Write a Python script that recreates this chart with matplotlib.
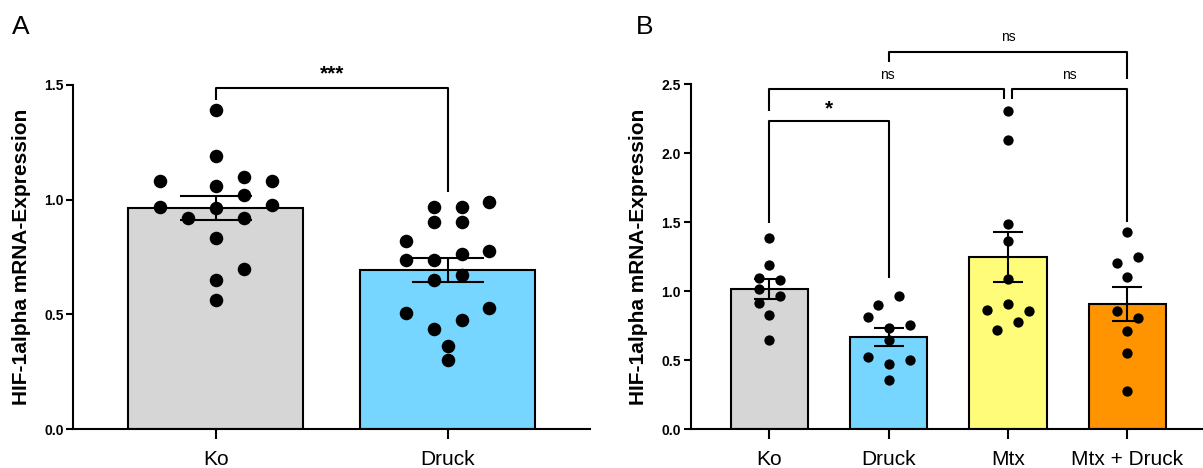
import matplotlib
matplotlib.use("Agg")
import matplotlib.pyplot as plt
import numpy as np

plt.rcParams["font.family"] = ["Liberation Sans", "DejaVu Sans"]

# ---- panel A data ----
groups_a = ["Ko", "Druck"]
ko_a = [1.39, 1.19, 1.08, 1.10, 1.08, 1.06, 1.02, 0.968, 0.965, 0.975,
        0.92, 0.92, 0.834, 0.696, 0.648, 0.562]
druck_a = [0.968, 0.968, 0.987, 0.904, 0.904, 0.82, 0.737, 0.737, 0.762,
           0.776, 0.67, 0.648, 0.507, 0.529, 0.474, 0.437, 0.362, 0.30]
colors_a = ["#D6D6D6", "#76D6FF"]

# ---- panel B data ----
groups_b = ["Ko", "Druck", "Mtx", "Mtx + Druck"]
ko_b = [1.389, 1.19, 1.099, 1.08, 1.017, 0.969, 0.915, 0.828, 0.645]
druck_b = [0.969, 0.899, 0.817, 0.759, 0.737, 0.645, 0.527, 0.505, 0.471, 0.36]
mtx_b = [2.307, 2.099, 1.49, 1.365, 1.092, 0.911, 0.867, 0.857, 0.775, 0.722]
mtxdruck_b = [1.427, 1.246, 1.208, 1.106, 0.857, 0.807, 0.71, 0.553, 0.275]
colors_b = ["#D6D6D6", "#76D6FF", "#FFFC79", "#FF9300"]

# swarm columns (in dot steps) for each point, same order as the values
slots_a = [
    [0, 0, -2, 1, 2, 0, 1, -2, 0, 2, -1, 1, 0, 1, 0, 0],
    [-0.5, 0.5, 1.5, -0.5, 0.5, -1.5, -1.5, -0.5, 0.5, 1.5, 0.5, -0.5,
     -1.5, 1.5, 0.5, -0.5, 0, 0],
]
slots_b = [
    [0, 0, -1, 1, -1, 1, -1, 0, 0],
    [1, -1, -2, 2, 0, 0, -2, 2, 0, 0],
    [0, 0, 0, 0, 0, 0, -2, 2, 1, -1],
    [0, 1, -1, 0, -1, 1, 0, 0, 0],
]

LW = 1.5


def bar_panel(ax, data, colors, slots, width, step, dot_size, cap):
    x = np.arange(len(data))
    means = [np.mean(d) for d in data]
    sems = [np.std(d, ddof=1) / np.sqrt(len(d)) for d in data]
    ax.bar(x, means, width=width, color=colors, edgecolor="black",
           linewidth=LW, zorder=1)
    ax.errorbar(x, means, yerr=sems, fmt="none", ecolor="black",
                elinewidth=LW, capsize=cap, capthick=LW, zorder=2)
    for i, (vals, sl) in enumerate(zip(data, slots)):
        xs = i + np.array(sl) * step
        ax.scatter(xs, vals, s=dot_size, color="black", zorder=3,
                   linewidths=0, clip_on=False)
    for side in ("top", "right"):
        ax.spines[side].set_visible(False)
    for side in ("left", "bottom"):
        ax.spines[side].set_linewidth(LW)
    ax.tick_params(axis="y", width=LW, length=5, labelsize=10, pad=2)
    ax.tick_params(axis="x", width=LW, length=7, labelsize=15, pad=8)
    ax.set_ylabel("HIF-1alpha mRNA-Expression", fontsize=15,
                  fontweight="bold")


def bracket(ax, x1, x2, y, y1, y2, text, ty, size, weight="normal"):
    ax.plot([x1, x1, x2, x2], [y1, y, y, y2], color="black", lw=LW,
            clip_on=False, solid_capstyle="butt", zorder=4)
    ax.text((x1 + x2) / 2, ty, text, ha="center", va="center",
            fontsize=size, fontweight=weight, clip_on=False)


fig = plt.figure(figsize=(12.03, 4.68), dpi=100)
W, H = 1203, 468

# panel A
ax_a = fig.add_axes([73.4 / W, (H - 429.3) / H, 516.6 / W, 344.7 / H])
bar_panel(ax_a, [ko_a, druck_a], colors_a, slots_a, 0.755, 0.1207, 95, 26)
ax_a.set_xlim(-0.615, 1.615)
ax_a.set_ylim(0, 1.5)
ax_a.set_yticks([0, 0.5, 1.0, 1.5])
ax_a.set_yticklabels(["0.0", "0.5", "1.0", "1.5"], fontweight="bold")
ax_a.set_xticks(range(len(groups_a)))
ax_a.set_xticklabels(groups_a)
ax_a.yaxis.set_label_coords(-0.082, 0.5)
bracket(ax_a, 0, 1, 1.484, 1.432, 1.034, "***", 1.545, 15, "bold")

# panel B
ax_b = fig.add_axes([690.7 / W, (H - 429.3) / H, 515.3 / W, 345.0 / H])
bar_panel(ax_b, [ko_b, druck_b, mtx_b, mtxdruck_b], colors_b, slots_b,
          0.65, 0.088, 55, 11)
ax_b.set_xlim(-0.66, 3.66)
ax_b.set_ylim(0, 2.5)
ax_b.set_yticks([0, 0.5, 1.0, 1.5, 2.0, 2.5])
ax_b.set_yticklabels(["0.0", "0.5", "1.0", "1.5", "2.0", "2.5"],
                     fontweight="bold")
ax_b.set_xticks(range(len(groups_b)))
ax_b.set_xticklabels(groups_b)
ax_b.yaxis.set_label_coords(-0.083, 0.5)
bracket(ax_b, 0, 1, 2.236, 1.493, 1.094, "*", 2.32, 15, "bold")
bracket(ax_b, 0, 1.97, 2.464, 2.309, 2.391, "ns", 2.567, 10)
bracket(ax_b, 2.03, 3, 2.464, 2.391, 1.504, "ns", 2.567, 10)
bracket(ax_b, 1, 3, 2.736, 2.664, 2.536, "ns", 2.84, 10)

fig.text(12 / W, 1 - 27 / H, "A", fontsize=19, va="center", ha="left")
fig.text(636 / W, 1 - 27 / H, "B", fontsize=19, va="center", ha="left")

fig.savefig("out.png", dpi=100)
